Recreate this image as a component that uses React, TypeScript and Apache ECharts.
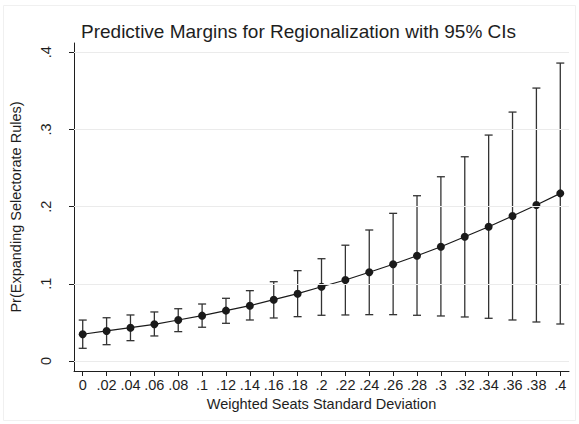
import React, { useEffect, useRef } from "react";
import * as echarts from "echarts";

const xValues = [0, 0.02, 0.04, 0.06, 0.08, 0.1, 0.12, 0.14, 0.16, 0.18, 0.2, 0.22, 0.24, 0.26, 0.28, 0.3, 0.32, 0.34, 0.36, 0.38, 0.4];
const margins = [0.0346, 0.0389, 0.0431, 0.0475, 0.0531, 0.0587, 0.0652, 0.0716, 0.0794, 0.0872, 0.0962, 0.1049, 0.1149, 0.1253, 0.1364, 0.148, 0.161, 0.174, 0.1878, 0.202, 0.2172];
const ciLower = [0.0164, 0.0211, 0.0263, 0.0324, 0.038, 0.0437, 0.0488, 0.0531, 0.0557, 0.0574, 0.0592, 0.0596, 0.06, 0.06, 0.0592, 0.0583, 0.057, 0.0553, 0.0531, 0.0505, 0.0479];
const ciUpper = [0.053, 0.056, 0.0596, 0.0635, 0.0677, 0.0738, 0.0812, 0.0911, 0.1027, 0.117, 0.1325, 0.15, 0.1697, 0.1913, 0.2141, 0.2387, 0.2646, 0.2927, 0.3225, 0.3536, 0.386];
const yTicks = [0, 0.1, 0.2, 0.3, 0.4];
const xTicks = xValues;

const fmt = (v: number) => {
  const s = String(Number(v.toFixed(2)));
  return s.startsWith("0.") ? s.slice(1) : s;
};

export default function App() {
  const ref = useRef<HTMLDivElement>(null);
  useEffect(() => {
    if (!ref.current) return;
    const chart = echarts.init(ref.current, undefined, { renderer: "svg" });
    const font = "'Liberation Sans', Arial, Helvetica, sans-serif";
    chart.setOption({
      animation: false,
      backgroundColor: "#ffffff",
      textStyle: { fontFamily: font },
      title: {
        text: "Predictive Margins for Regionalization with 95% CIs",
        left: 76,
        top: 17,
        textStyle: { fontFamily: font, fontSize: 19, fontWeight: "normal", color: "#1e1e1e" },
      },
      graphic: [
        {
          type: "rect",
          shape: { x: 3.5, y: 5.5, width: 572, height: 415 },
          style: { fill: "none", stroke: "#f0f0f0", lineWidth: 1 },
          silent: true,
        },
      ],
      grid: { left: 60, right: 10, top: 43, bottom: 53, containLabel: false },
      xAxis: {
        type: "value",
        min: -0.0073,
        max: 0.4073,
        name: "Weighted Seats Standard Deviation",
        nameLocation: "middle",
        nameGap: 22,
        nameTextStyle: { fontFamily: font, fontSize: 14.5, color: "#1e1e1e" },
        axisLine: { show: true, onZero: false, lineStyle: { color: "#1e1e1e", width: 1 } },
        axisTick: { show: true, customValues: xTicks, length: 5, lineStyle: { color: "#1e1e1e" } },
        axisLabel: { customValues: xTicks, formatter: (v: number) => fmt(v), fontSize: 14.5, color: "#1e1e1e", margin: 6, fontFamily: font },
        splitLine: { show: false },
      },
      yAxis: {
        type: "value",
        min: -0.013,
        max: 0.412,
        name: "Pr(Expanding Selectorate Rules)",
        nameLocation: "middle",
        nameGap: 51,
        nameRotate: 90,
        nameTextStyle: { fontFamily: font, fontSize: 14.5, color: "#1e1e1e" },
        axisLine: { show: true, onZero: false, lineStyle: { color: "#1e1e1e", width: 1 } },
        axisTick: { show: true, customValues: yTicks, length: 5, lineStyle: { color: "#1e1e1e" } },
        axisLabel: { customValues: yTicks, rotate: 90, formatter: (v: number) => fmt(v), fontSize: 14.5, color: "#1e1e1e", margin: 21, fontFamily: font },
        splitLine: { show: false },
      },
      series: [
        {
          type: "line",
          data: [],
          z: 0,
          silent: true,
          markLine: {
            silent: true,
            symbol: "none",
            label: { show: false },
            lineStyle: { color: "#ebebeb", width: 1, type: "solid" },
            data: yTicks.map((t) => ({ yAxis: t })),
          },
        },
        {
          type: "custom",
          z: 2,
          data: xValues.map((x, i) => [x, ciLower[i], ciUpper[i]]),
          renderItem: (params: any, api: any) => {
            const x = api.value(0);
            const lo = api.coord([x, api.value(1)]);
            const hi = api.coord([x, api.value(2)]);
            const w = 4;
            const style = { stroke: "#333333", lineWidth: 1.3 };
            return {
              type: "group",
              children: [
                { type: "line", shape: { x1: lo[0], y1: lo[1], x2: hi[0], y2: hi[1] }, style },
                { type: "line", shape: { x1: lo[0] - w, y1: lo[1], x2: lo[0] + w, y2: lo[1] }, style },
                { type: "line", shape: { x1: hi[0] - w, y1: hi[1], x2: hi[0] + w, y2: hi[1] }, style },
              ],
            };
          },
        },
        {
          type: "line",
          z: 3,
          data: xValues.map((x, i) => [x, margins[i]]),
          symbol: "circle",
          symbolSize: 8,
          itemStyle: { color: "#1a1a1a" },
          lineStyle: { color: "#1a1a1a", width: 1.2 },
        },
      ],
    });
    return () => chart.dispose();
  }, []);
  return <div ref={ref} style={{ position: "absolute", left: 0, top: 0, width: 579, height: 424 }} />;
}
